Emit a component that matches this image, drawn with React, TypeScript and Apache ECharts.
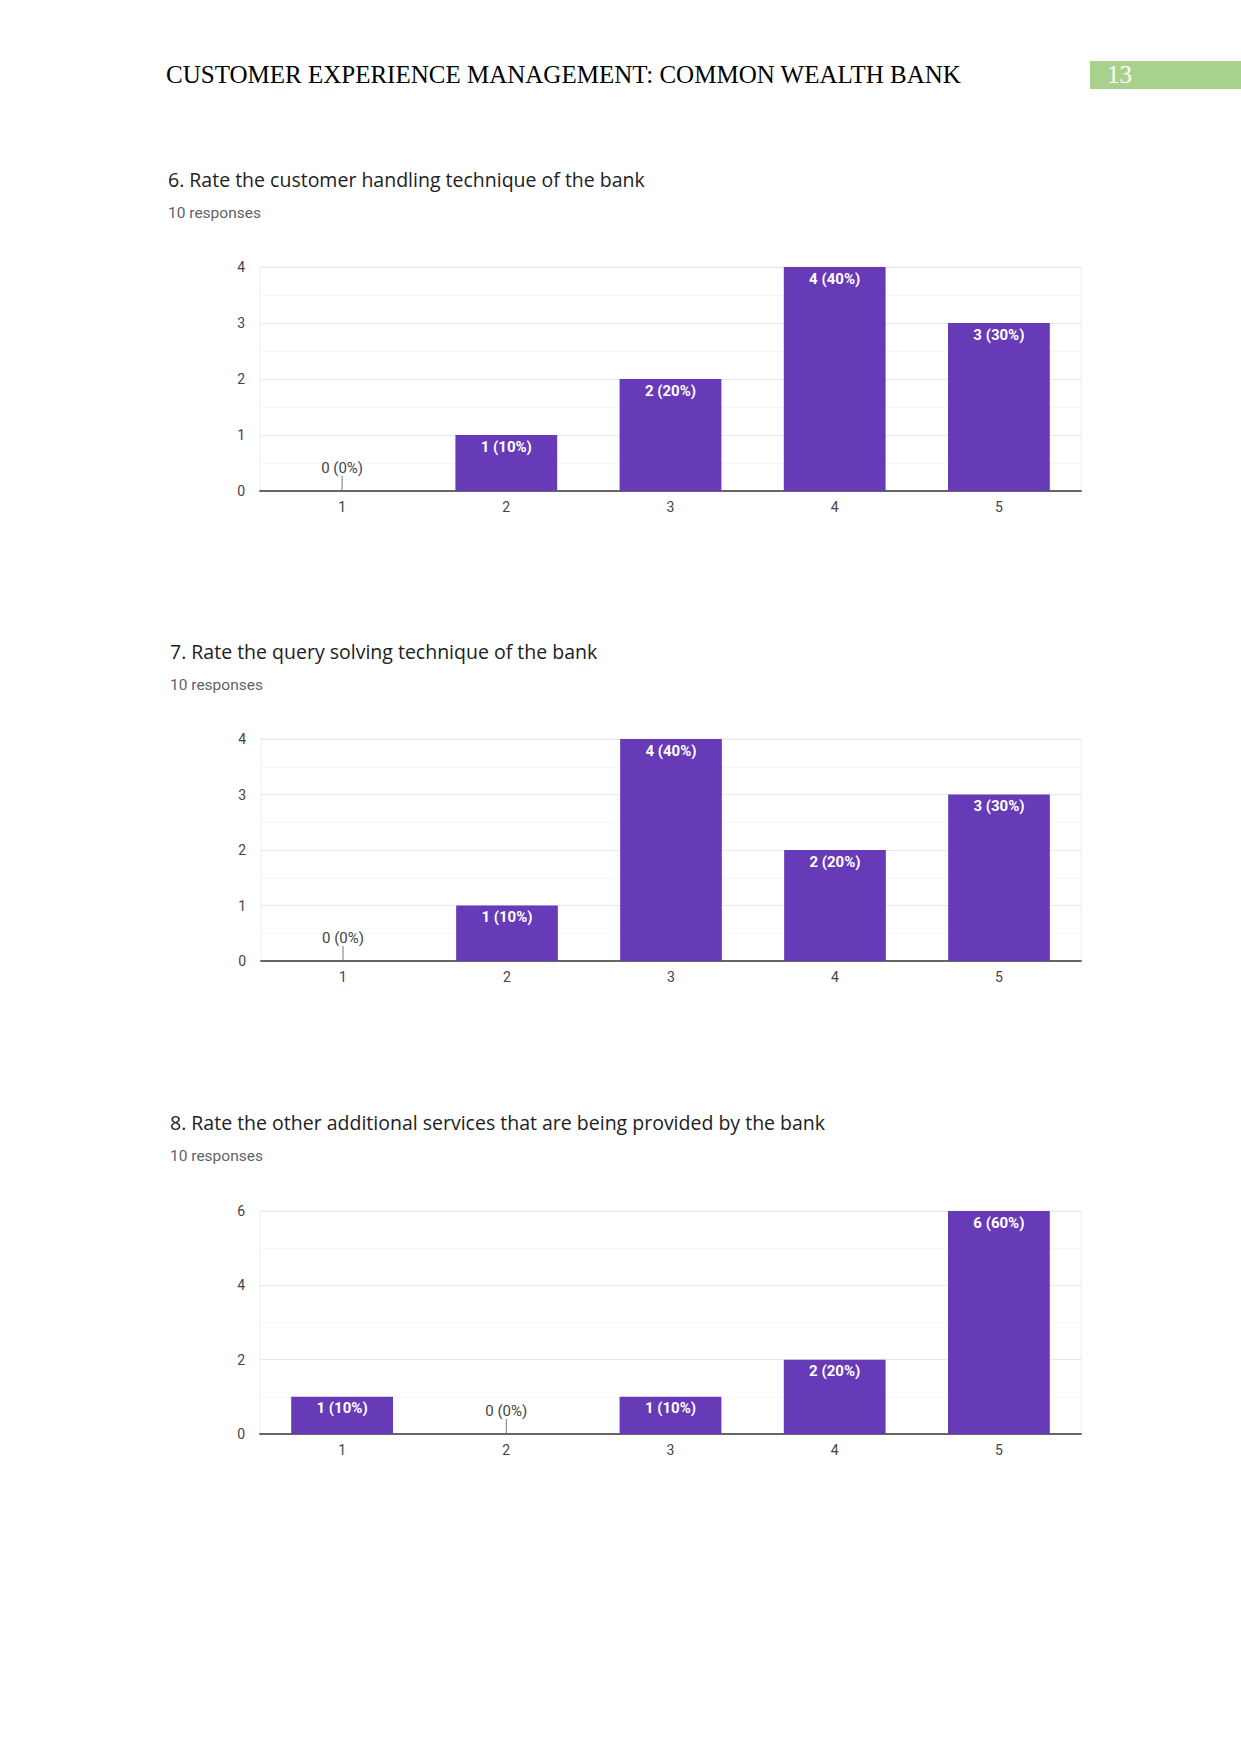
import React, { useEffect, useRef } from 'react';
import * as echarts from 'echarts';

// ---- Data ----
const CATEGORIES = ['1', '2', '3', '4', '5'];
const Q6_VALUES = [0, 1, 2, 4, 3];
const Q7_VALUES = [0, 1, 4, 2, 3];
const Q8_VALUES = [1, 0, 1, 2, 6];
const Q6_AXIS = { max: 4, interval: 1 };
const Q7_AXIS = { max: 4, interval: 1 };
const Q8_AXIS = { max: 6, interval: 2 };
const TITLES = [
  '6. Rate the customer handling technique of the bank',
  '7. Rate the query solving technique of the bank',
  '8. Rate the other additional services that are being provided by the bank',
];
const RESPONSES = ['10 responses', '10 responses', '10 responses'];
const TOTAL = 10;
const HEADER = 'CUSTOMER EXPERIENCE MANAGEMENT: COMMON WEALTH BANK';
const PAGE_NUMBER = '13';

// ---- Layout ----
const PANELS = [
  { values: Q6_VALUES, axis: Q6_AXIS, left: 260, top: 267, width: 821, height: 224, titleX: 168, titleY: 180 },
  { values: Q7_VALUES, axis: Q7_AXIS, left: 261, top: 739, width: 820, height: 222, titleX: 170, titleY: 652 },
  { values: Q8_VALUES, axis: Q8_AXIS, left: 260, top: 1211, width: 821, height: 223, titleX: 170, titleY: 1123 },
];

const PURPLE = '#673ab7';
const FONT = 'Roboto, "Noto Sans", sans-serif';
const TITLE_FONT = '"Open Sans", Roboto, sans-serif';

function labelText(v: number) {
  return `${v} (${Math.round((v / TOTAL) * 100)}%)`;
}

export default function App() {
  const ref = useRef<HTMLDivElement>(null);

  useEffect(() => {
    if (!ref.current) return;
    const chart = echarts.init(ref.current, undefined, { renderer: 'svg' });

    const grids: any[] = [];
    const xAxes: any[] = [];
    const yAxes: any[] = [];
    const series: any[] = [];
    const graphics: any[] = [];

    PANELS.forEach((p, i) => {
      grids.push({
        left: p.left,
        top: p.top,
        width: p.width,
        height: p.height,
        show: true,
        borderColor: '#eeeeee',
        borderWidth: 1,
        containLabel: false,
      });
      xAxes.push({
        type: 'category',
        gridIndex: i,
        data: CATEGORIES,
        boundaryGap: true,
        axisTick: { show: false },
        axisLine: { show: true, lineStyle: { color: '#666666', width: 2 } },
        axisLabel: { color: '#444444', fontSize: 14, fontFamily: FONT, margin: 9 },
        splitLine: { show: false },
      });
      yAxes.push({
        type: 'value',
        gridIndex: i,
        min: 0,
        max: p.axis.max,
        interval: p.axis.interval,
        axisLine: { show: false },
        axisTick: { show: false },
        axisLabel: { color: '#444444', fontSize: 14, fontFamily: FONT, margin: 15 },
        splitLine: { show: true, lineStyle: { color: '#e8e8e8', width: 1 } },
        minorTick: { show: false, splitNumber: 2 },
        minorSplitLine: { show: true, lineStyle: { color: '#f6f6f6', width: 1 } },
      });
      series.push({
        type: 'bar',
        xAxisIndex: i,
        yAxisIndex: i,
        barWidth: '62%',
        itemStyle: { color: PURPLE },
        data: p.values.map((v) => ({
          value: v,
          label:
            v === 0
              ? {
                  show: true,
                  position: 'top',
                  distance: 16,
                  color: '#444444',
                  fontSize: 15,
                  fontFamily: FONT,
                  fontWeight: 'normal',
                  formatter: () => labelText(v),
                }
              : {
                  show: true,
                  position: 'insideTop',
                  distance: 4,
                  color: '#ffffff',
                  fontSize: 15,
                  fontFamily: FONT,
                  fontWeight: 'bold',
                  formatter: () => labelText(v),
                },
        })),
      });
      const zeroData = p.values
        .map((v, idx) => (v === 0 ? [idx, 0] : null))
        .filter((d) => d !== null);
      series.push({
        type: 'custom',
        xAxisIndex: i,
        yAxisIndex: i,
        silent: true,
        z: 5,
        encode: { x: 0, y: 1 },
        data: zeroData,
        renderItem: (params: any, api: any) => {
          const pt = api.coord([api.value(0), 0]);
          return {
            type: 'line',
            shape: { x1: pt[0], y1: pt[1] - 1, x2: pt[0], y2: pt[1] - 15 },
            style: { stroke: '#777777', lineWidth: 1 },
          };
        },
      });

      graphics.push({
        type: 'text',
        left: p.titleX,
        top: p.titleY - 11,
        style: {
          text: TITLES[i],
          fill: '#202124',
          font: `19.5px ${TITLE_FONT}`,
        },
      });
      graphics.push({
        type: 'text',
        left: p.titleX,
        top: p.titleY + 35.5 - 11,
        style: {
          text: RESPONSES[i],
          fill: '#5f6368',
          font: `15.5px ${FONT}`,
        },
      });
    });

    graphics.push({
      type: 'text',
      left: 166,
      top: 62,
      style: {
        text: HEADER,
        fill: '#000000',
        font: '25px "Liberation Serif", "Times New Roman", serif',
      },
    });
    graphics.push({
      type: 'rect',
      left: 1090,
      top: 61,
      shape: { width: 151, height: 28 },
      style: { fill: '#a9d18e' },
    });
    graphics.push({
      type: 'text',
      left: 1107,
      top: 62,
      style: {
        text: PAGE_NUMBER,
        fill: '#ffffff',
        font: '25px "Liberation Serif", "Times New Roman", serif',
      },
    });

    chart.setOption({
      animation: false,
      backgroundColor: '#ffffff',
      grid: grids,
      xAxis: xAxes,
      yAxis: yAxes,
      series,
      graphic: graphics,
    });

    return () => chart.dispose();
  }, []);

  return (
    <div
      ref={ref}
      style={{ position: 'absolute', left: 0, top: 0, width: 1241, height: 1754 }}
    />
  );
}
